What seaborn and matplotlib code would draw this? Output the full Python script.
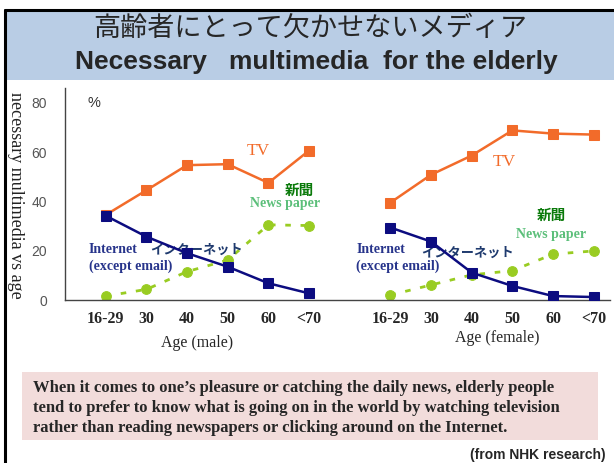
import numpy as np
import pandas as pd
import matplotlib
matplotlib.use("Agg")
import matplotlib.pyplot as plt
import seaborn as sns
from matplotlib.patches import Rectangle
from matplotlib.lines import Line2D

# ---------------------------------------------------------------------------
# Data (percent saying the medium is necessary)
# ---------------------------------------------------------------------------
ages = ["16-29", "30", "40", "50", "60", "<70"]

tv_male = [34.5, 44.5, 54.7, 55.1, 47.5, 60.6]
internet_male = [34.2, 25.7, 19.0, 13.5, 6.8, 2.7]
paper_male = [1.6, 4.3, 11.5, 16.2, 30.5, 30.2]

tv_female = [39.5, 50.8, 58.6, 68.8, 67.5, 67.1]
internet_female = [29.4, 23.7, 11.1, 5.7, 1.6, 1.2]
paper_female = [2.0, 6.1, 10.2, 11.9, 18.6, 19.9]

yticks = [0, 20, 40, 60, 80]

# male group sits at slots 1..6, female at 8..13 (slot 0 and 7 are empty ticks)
tick_labels = [""] + ages + [""] + ages
male_x = np.arange(1, 7)
female_x = np.arange(8, 14)

rows = []
for sex, xs, series in [
    ("male", male_x, {"TV": tv_male, "Internet": internet_male, "Paper": paper_male}),
    ("female", female_x, {"TV": tv_female, "Internet": internet_female, "Paper": paper_female}),
]:
    for medium, vals in series.items():
        for x, v in zip(xs, vals):
            rows.append({"Sex": sex, "Medium": medium, "x": x, "Value": v})
df = pd.DataFrame(rows)

orange = "#f26b2a"
navy = "#0c0c80"
lime = "#99cc22"

sns.set_style("white")
plt.rcParams["font.family"] = ["Liberation Serif", "Noto Sans CJK JP", "DejaVu Sans"]

fig = plt.figure(figsize=(6.14, 4.63), dpi=100)
fig.patch.set_facecolor("white")

# slide frame + title band
fig.add_artist(Rectangle((5 / 614, 1 - 80 / 463), 1, 70 / 463, transform=fig.transFigure,
                         facecolor="#b9cde5", edgecolor="none", zorder=0))
fig.add_artist(Line2D([5 / 614, 1], [1 - 10 / 463] * 2, transform=fig.transFigure,
                      color="black", lw=2.2))
fig.add_artist(Line2D([5 / 614] * 2, [0, 1 - 10 / 463], transform=fig.transFigure,
                      color="black", lw=2.2))

fig.text(0.505, 1 - 28 / 463, "高齢者にとって欠かせないメディア", ha="center", va="center",
         fontsize=19.5, family=["Noto Sans CJK JP"])
fig.text(0.515, 1 - 62 / 463, "Necessary   multimedia  for the elderly", ha="center", va="center",
         fontsize=19, fontweight="bold", family=["Liberation Sans Narrow", "Liberation Sans"])

ax = fig.add_axes([65 / 614, 1 - 300 / 463, 545 / 614, 212 / 463])

for sex in ["male", "female"]:
    d = df[df["Sex"] == sex]
    sns.lineplot(data=d[d["Medium"] == "TV"], x="x", y="Value", ax=ax, color=orange,
                 marker="s", markersize=7, markeredgecolor=orange, lw=1.8, zorder=3)
    sns.lineplot(data=d[d["Medium"] == "Internet"], x="x", y="Value", ax=ax, color=navy,
                 marker="s", markersize=7, markeredgecolor=navy, lw=1.8, zorder=4)
    sns.lineplot(data=d[d["Medium"] == "Paper"], x="x", y="Value", ax=ax, color=lime,
                 marker="o", markersize=7, markeredgecolor=lime, lw=2,
                 linestyle=(0, (2, 3.5)), zorder=2)

ax.set_xlim(0, 13.4)
ax.set_ylim(0, 86)
ax.set_xticks(np.arange(len(tick_labels)))
ax.set_xticklabels(tick_labels, fontsize=11.5, fontweight="bold")
ax.set_yticks(yticks)
ax.set_yticklabels([str(t) for t in yticks], fontsize=10, color="#555555",
                   family=["Liberation Sans"])
ax.tick_params(axis="x", direction="in", length=4, width=0.8, color="#444444", pad=8)
ax.tick_params(axis="y", direction="out", length=4, width=0.8, color="#444444", pad=9)
ax.set_xlabel("")
ax.set_ylabel("")
for s in ["top", "right"]:
    ax.spines[s].set_visible(False)
for s in ["left", "bottom"]:
    ax.spines[s].set_color("#444444")
    ax.spines[s].set_linewidth(1)
ax.patch.set_alpha(0)

ax.text(0.55, 80, "%", fontsize=10.5, family=["Liberation Sans"], va="center", color="#333333")

# in-plot labels
ax.text(4.75, 60.5, "TV", color=orange, fontsize=12.5, ha="center", va="center")
ax.text(10.8, 56, "TV", color=orange, fontsize=12.5, ha="center", va="center")

ax.text(5.75, 44.5, "新聞", color="#0a7a0a", fontsize=10.5, fontweight="bold",
        ha="center", va="center", family=["Noto Sans CJK JP"])
ax.text(5.4, 39, "News paper", color="#5cbf7a", fontsize=10, fontweight="bold",
        ha="center", va="center")
ax.text(11.95, 34.5, "新聞", color="#0a7a0a", fontsize=10.5, fontweight="bold",
        ha="center", va="center", family=["Noto Sans CJK JP"])
ax.text(11.95, 26.5, "News paper", color="#5cbf7a", fontsize=10, fontweight="bold",
        ha="center", va="center")

for xl, xj, yj in [(0.58, 2.1, 20.5), (7.16, 8.75, 19.2)]:
    ax.text(xl, 20.5, "Internet", color="#27348b", fontsize=10, fontweight="bold",
            ha="left", va="center")
    ax.text(xl, 13.5, "(except email)", color="#27348b", fontsize=10, fontweight="bold",
            ha="left", va="center")
    ax.text(xj, yj, "インターネット", color="#1f3a6e", fontsize=9.5, fontweight="bold",
            ha="left", va="center", family=["Noto Sans CJK JP"])

fig.text(15 / 614, 1 - 195 / 463, "necessary multimedia vs age", rotation=270,
         ha="center", va="center", fontsize=13, color="#222222")

fig.text(197 / 614, 1 - 343 / 463, "Age (male)", ha="center", va="center", fontsize=11.5)
fig.text(497 / 614, 1 - 338 / 463, "Age (female)", ha="center", va="center", fontsize=11.5)

# note box
fig.add_artist(Rectangle((22 / 614, 1 - 440 / 463), 576 / 614, 68 / 463,
                         transform=fig.transFigure, facecolor="#f2dcdb", edgecolor="none"))
note = ["When it comes to one\u2019s pleasure or catching the daily news, elderly people",
        "tend to prefer to know what is going on in the world by watching television",
        "rather than reading newspapers or clicking around on the Internet."]
for i, line in enumerate(note):
    fig.text(33 / 614, 1 - (388 + i * 20) / 463, line, ha="left", va="center",
             fontsize=12, fontweight="bold")

fig.text(606 / 614, 1 - 455 / 463, "(from NHK research)", ha="right", va="center",
         fontsize=10, fontweight="bold", family=["Liberation Sans Narrow", "Liberation Sans"])

fig.savefig("out.png", dpi=100)
